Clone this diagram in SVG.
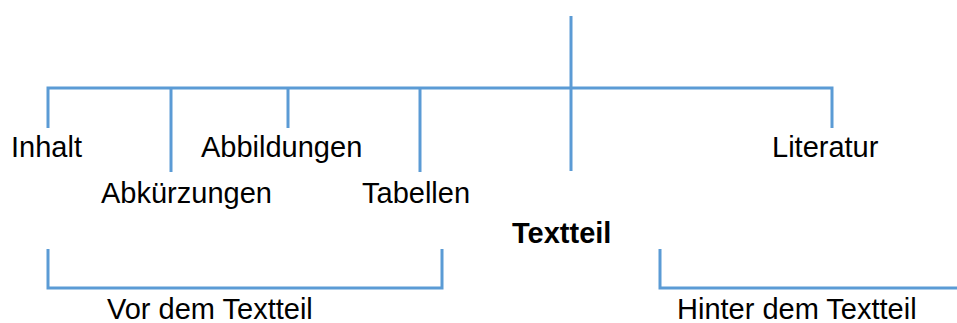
<svg xmlns="http://www.w3.org/2000/svg" width="957" height="323" viewBox="0 0 957 323">
  <style>
    .ln { fill: none; stroke: #5B9BD5; stroke-width: 3; stroke-linecap: butt; stroke-linejoin: miter; }
    .lbl { font-family: "Liberation Sans", Arial, sans-serif; font-size: 29px; fill: #000; }
    .bold { font-weight: bold; }
  </style>
  <rect width="957" height="323" fill="#fff"/>
  <g id="connectors">
    <!-- trunk and main branch -->
    <line class="ln" x1="571" y1="16" x2="571" y2="171"/>
    <polyline class="ln" points="48,128 48,88 832,88 832,128"/>
    <line class="ln" x1="171" y1="88" x2="171" y2="172"/>
    <line class="ln" x1="288" y1="88" x2="288" y2="128"/>
    <line class="ln" x1="420" y1="88" x2="420" y2="172"/>
    <!-- grouping brackets -->
    <polyline class="ln" points="48,249 48,288 442,288 442,249"/>
    <polyline class="ln" points="660,249 660,288 957,288"/>
  </g>
  <g id="inhalt"><text class="lbl" x="11" y="157">Inhalt</text></g>
  <g id="abkuerzungen"><text class="lbl" x="101" y="203">Abkürzungen</text></g>
  <g id="abbildungen"><text class="lbl" x="201" y="157">Abbildungen</text></g>
  <g id="tabellen"><text class="lbl" x="362" y="203">Tabellen</text></g>
  <g id="textteil"><text class="lbl bold" x="512" y="243">Textteil</text></g>
  <g id="literatur"><text class="lbl" x="772" y="157">Literatur</text></g>
  <g id="vor"><text class="lbl" x="107" y="319">Vor dem Textteil</text></g>
  <g id="hinter"><text class="lbl" x="677" y="319">Hinter dem Textteil</text></g>
</svg>
